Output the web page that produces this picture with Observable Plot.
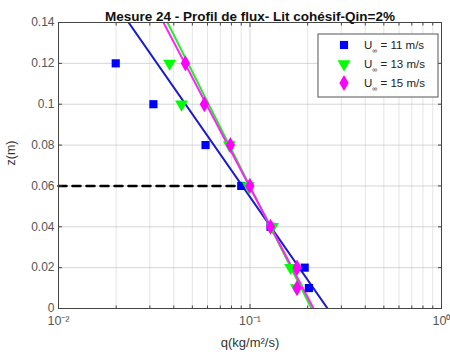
<!DOCTYPE html>
<html>
<head>
<meta charset="utf-8">
<script src="https://cdn.jsdelivr.net/npm/d3@7"></script>
<script src="https://cdn.jsdelivr.net/npm/@observablehq/plot@0.6"></script>
<style>
  html, body { margin: 0; padding: 0; background: #fff; }
  #chart { position: relative; width: 450px; height: 360px; }
  svg { font-family: "Liberation Sans", Arial, sans-serif; }
</style>
</head>
<body>
<div id="chart"></div>
<script>
// ---- data ----
const title = "Mesure 24 - Profil de flux- Lit cohésif-Qin=2%";
const xLabel = "q(kg/m²/s)";
const yLabel = "z(m)";
const seriesSpeeds = ["11", "13", "15"];
const seriesColors = ["#0000ff", "#00ff00", "#ff00ff"];
const lineColors = ["#1a1ad0", "#22ee22", "#ff22ff"];
const zValues = [0.12, 0.10, 0.08, 0.06, 0.04, 0.02, 0.01];
const q11 = [0.0199, 0.0313, 0.0586, 0.090, 0.128, 0.193, 0.203];
const q13 = [0.038, 0.0439, 0.078, 0.098, 0.131, 0.163, 0.175];
const q15 = [0.046, 0.0578, 0.079, 0.0998, 0.128, 0.176, 0.176];
// fitted profiles: log10(q) = a + b*z
const fitA = [-0.595, -0.679, -0.668];
const fitB = [-7.42, -5.37, -5.60];
const dashedZ = 0.06;
const dashedQ = [0.01, 0.090];
const yTicks = [0, 0.02, 0.04, 0.06, 0.08, 0.10, 0.12, 0.14];
const yTickLabels = ["0", "0.02", "0.04", "0.06", "0.08", "0.1", "0.12", "0.14"];
const xMajor = [0.01, 0.1, 1];
const xMajorLabels = ["10⁻²", "10⁻¹", "10⁰"];

// ---- build ----
const xMinor = [];
for (const d of [0.01, 0.1]) for (let k = 2; k <= 9; k++) xMinor.push(+(d * k).toPrecision(3));
const qs = [q11, q13, q15];
const symbols = ["square", "triangle", "diamond"];
const rotates = [0, 180, 0];
const radii = [4.6, 4.8, 4.9];
const points = [];
qs.forEach((arr, s) => arr.forEach((q, i) => points.push({s, q, z: zValues[i]})));
const fitLines = [];
fitA.forEach((a, s) => [ -0.02, 0.16 ].forEach(z => fitLines.push({s, z, q: Math.pow(10, a + fitB[s] * z)})));
const dashed = dashedQ.map(q => ({q, z: dashedZ}));

const axisColor = "#444";
const plot = Plot.plot({
  width: 450,
  height: 360,
  marginLeft: 58,
  marginRight: 9,
  marginTop: 22,
  marginBottom: 52,
  style: {fontFamily: "Liberation Sans, Arial, sans-serif", fontSize: "12px", color: axisColor},
  x: {type: "log", domain: [0.01, 1]},
  y: {domain: [0, 0.14]},
  marks: [
    Plot.gridX(xMinor, {stroke: "#ccc", strokeOpacity: 0.5}),
    Plot.gridX(xMajor, {stroke: "#bbb", strokeOpacity: 0.6}),
    Plot.gridY(yTicks, {stroke: "#bbb", strokeOpacity: 0.6}),
    Plot.line(dashed, {x: "q", y: "z", stroke: "black", strokeWidth: 2.5, strokeDasharray: "8,6"}),
    ...[0, 1, 2].map(s => Plot.line(fitLines.filter(d => d.s === s), {x: "q", y: "z", stroke: lineColors[s], strokeWidth: 2, clip: true})),
    ...[0, 1, 2].map(s => Plot.dot(points.filter(d => d.s === s), {x: "q", y: "z", symbol: () => symbols[s], rotate: rotates[s], r: radii[s], fill: seriesColors[s], stroke: "none"})),
    Plot.frame({stroke: axisColor, strokeWidth: 1}),
    Plot.axisX(xMajor, {anchor: "bottom", tickSize: -4, tickPadding: 12, tickFormat: d => xMajorLabels[xMajor.indexOf(d)], fontSize: 12.5, label: null, stroke: axisColor, fill: "#555"}),
    Plot.axisX(xMinor, {anchor: "bottom", tickSize: -2.5, tickFormat: () => "", label: null, stroke: axisColor}),
    Plot.axisX(xMajor, {anchor: "top", tickSize: -4, tickFormat: () => "", label: null, stroke: axisColor}),
    Plot.axisX(xMinor, {anchor: "top", tickSize: -2.5, tickFormat: () => "", label: null, stroke: axisColor}),
    Plot.axisY(yTicks, {anchor: "left", tickSize: -4, tickPadding: 8, tickFormat: d => yTickLabels[yTicks.indexOf(d)], fontSize: 12, label: null, stroke: axisColor, fill: "#555"}),
    Plot.axisY(yTicks, {anchor: "right", tickSize: -4, tickFormat: () => "", label: null, stroke: axisColor}),
    Plot.text([title], {frameAnchor: "top", dy: -11, fontWeight: "bold", fontSize: 13.5, fill: "#111"}),
    Plot.text([xLabel], {frameAnchor: "bottom", dy: 38, fontSize: 13, fill: "#333"}),
    Plot.text([yLabel], {frameAnchor: "left", dx: -48, rotate: -90, fontSize: 12.5, fill: "#333"})
  ]
});
document.getElementById("chart").appendChild(plot);

// ---- legend (inside top-right of frame) ----
const svg = d3.select(plot);
const fRight = 450 - 9, fTop = 22;
const lg = svg.append("g").attr("transform", `translate(${fRight - 123},${fTop + 12})`);
lg.append("rect").attr("width", 120).attr("height", 63).attr("fill", "white").attr("stroke", "#555").attr("stroke-width", 1);
seriesSpeeds.forEach((sp, s) => {
  const cy = 11 + s * 19;
  const sym = d3.symbol().type(s === 0 ? d3.symbolSquare : s === 1 ? d3.symbolTriangle : d3.symbolDiamond).size(Math.PI * radii[s] * radii[s]);
  lg.append("path").attr("d", sym()).attr("fill", seriesColors[s])
    .attr("transform", `translate(26,${cy})` + (s === 1 ? " rotate(180)" : ""));
  const t = lg.append("text").attr("x", 46).attr("y", cy + 4).attr("font-size", 11.5)
    .attr("text-anchor", "start").attr("fill", "#222");
  t.append("tspan").text("U");
  t.append("tspan").attr("dy", 4).attr("font-size", 7).text("∞");
  t.append("tspan").attr("dy", -4).text(" = " + sp + " m/s");
});
</script>
</body>
</html>
